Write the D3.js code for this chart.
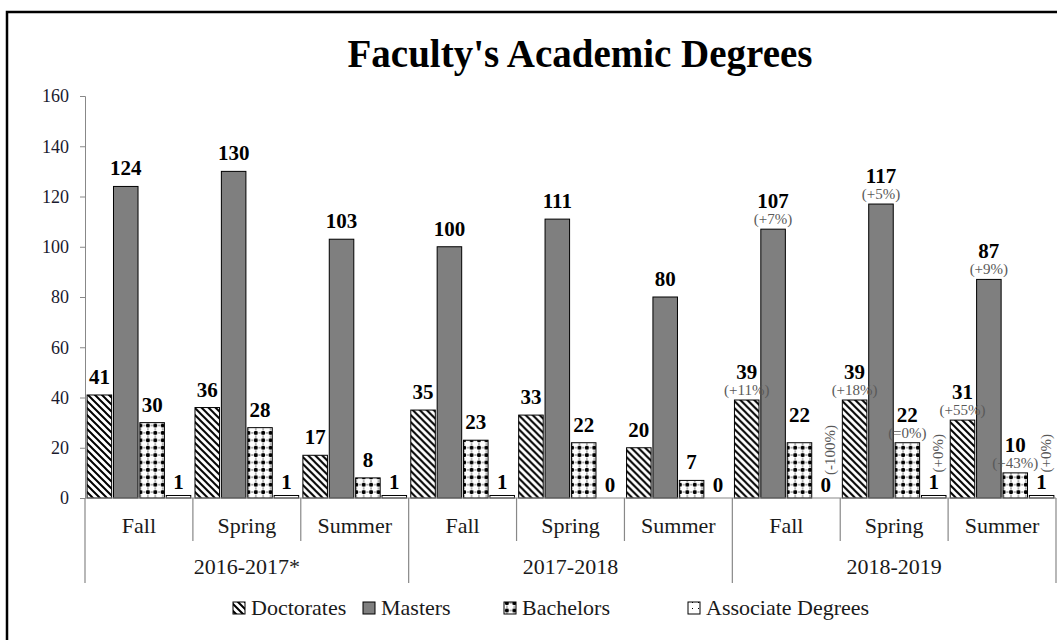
<!DOCTYPE html>
<html><head><meta charset="utf-8">
<script src="https://cdn.jsdelivr.net/npm/d3@7"></script>
<style>body{margin:0;background:#fff}svg{display:block}</style>
</head><body>
<svg id="chart" width="1057" height="640"></svg>
<script>
// ---------- data ----------
const seasons = ["Fall","Spring","Summer","Fall","Spring","Summer","Fall","Spring","Summer"];
const years = ["2016-2017*","2017-2018","2018-2019"];
const seriesNames = ["Doctorates","Masters","Bachelors","Associate Degrees"];
const doctorates = [41,36,17,35,33,20,39,39,31];
const masters    = [124,130,103,100,111,80,107,117,87];
const bachelors  = [30,28,8,23,22,7,22,22,10];
const associates = [1,1,1,1,0,0,0,1,1];
// change labels (null = no label line, "" = empty line)
const doctoratesPct = [null,null,null,null,null,null,"(+11%)","(+18%)","(+55%)"];
const mastersPct    = [null,null,null,null,null,null,"(+7%)","(+5%)","(+9%)"];
const bachelorsPct  = [null,null,null,null,null,null,"","(=0%)","(+43%)"];
const associatesPct = [null,null,null,null,null,null,"(-100%)","(+0%)","(+0%)"];
const yTicks = [0,20,40,60,80,100,120,140,160];

// ---------- setup ----------
const svg = d3.select("#chart");
const FONT = "'Liberation Serif','Times New Roman',serif";
const values = [doctorates, masters, bachelors, associates];
const pcts = [doctoratesPct, mastersPct, bachelorsPct, associatesPct];
const rotatedPct = [false,false,false,true];
const fills = ["url(#pDiag)","#7f7f7f","url(#pDots)","url(#pSparse)"];

const plotL = 85, plotR = 1056, plotT = 96, plotB = 498;
const y = d3.scaleLinear().domain([0,160]).range([plotB, plotT]);
const x = d3.scaleBand().domain(d3.range(seasons.length)).range([plotL, plotR]).padding(0);
const xi = d3.scaleBand().domain(d3.range(seriesNames.length)).range([0, x.bandwidth()])
  .paddingInner(0.07).paddingOuter(0.08);

// patterns
const defs = svg.append("defs");
const pd = defs.append("pattern").attr("id","pDiag").attr("patternUnits","userSpaceOnUse")
  .attr("width",7).attr("height",7);
pd.append("rect").attr("width",7).attr("height",7).attr("fill","#fff");
pd.append("path").attr("d","M-2,-2L9,9M-2,5L2,9M5,-2L9,2").attr("stroke","#000").attr("stroke-width",2);

const pdots = defs.append("pattern").attr("id","pDots").attr("patternUnits","userSpaceOnUse")
  .attr("width",7.4).attr("height",7.4);
pdots.append("rect").attr("width",7.4).attr("height",7.4).attr("fill","#fff");
pdots.append("path").attr("d","M0,3.7H7.4M3.7,0V7.4").attr("stroke","#000").attr("stroke-width",0.6).attr("stroke-dasharray","1,1.2");
pdots.append("circle").attr("cx",3.7).attr("cy",3.7).attr("r",2.1).attr("fill","#000");

const ps = defs.append("pattern").attr("id","pSparse").attr("patternUnits","userSpaceOnUse")
  .attr("width",6).attr("height",6);
ps.append("rect").attr("width",6).attr("height",6).attr("fill","#fff");
ps.append("rect").attr("x",2).attr("y",2).attr("width",1).attr("height",1).attr("fill","#000");

// outer border
svg.append("rect").attr("x",7).attr("y",12).attr("width",1100).attr("height",700)
  .attr("fill","none").attr("stroke","#000").attr("stroke-width",2.5);

// title
svg.append("text").attr("x",580).attr("y",67).attr("text-anchor","middle")
  .attr("font-family",FONT).attr("font-weight","bold").attr("font-size",39)
  .attr("fill","#000").text("Faculty's Academic Degrees");

// y axis
const yAxis = svg.append("g").attr("transform",`translate(${plotL},0)`)
  .call(d3.axisLeft(y).tickValues(yTicks).tickSize(5).tickPadding(11).tickFormat(d3.format("d")));
yAxis.select(".domain").attr("stroke","#888");
yAxis.selectAll(".tick line").attr("stroke","#888");
yAxis.selectAll(".tick text").attr("font-family",FONT).attr("font-size",18).attr("fill","#1a1a2e");

// bars
const groups = svg.append("g").selectAll("g").data(seasons).join("g")
  .attr("transform",(d,i)=>`translate(${x(i)},0)`);

values.forEach((arr, s) => {
  groups.append("rect")
    .attr("x", xi(s)).attr("width", xi.bandwidth())
    .attr("y", (d,i)=>y(arr[i])).attr("height",(d,i)=>Math.max(0.0001, plotB - y(arr[i])))
    .attr("fill", fills[s]).attr("stroke","#000").attr("stroke-width",1)
    .attr("display",(d,i)=>arr[i]===0?"none":null);
});

// labels
values.forEach((arr, s) => {
  const cx = xi(s) + xi.bandwidth()/2;
  groups.each(function(d,i){
    const g = d3.select(this);
    const v = arr[i], p = pcts[s][i];
    const topY = y(v);
    const stacked = p !== null && !rotatedPct[s];
    const gap = stacked ? 21 : (s === 3 ? 6 : 11);
    const vb = topY - gap;
    g.append("text").attr("x",cx).attr("y",vb).attr("text-anchor","middle")
      .attr("font-family",FONT).attr("font-weight","bold").attr("font-size",21)
      .attr("fill","#000").text(v);
    if (p !== null && p !== "") {
      if (rotatedPct[s]) {
        const ax = cx + 4, ay = vb - 17;
        g.append("text").attr("transform",`translate(${ax},${ay}) rotate(-90)`)
          .attr("dy","0.35em").attr("text-anchor","start")
          .attr("font-family",FONT).attr("font-size",15).attr("fill","#595959").text(p);
      } else {
        g.append("text").attr("x",cx).attr("y",topY - 5).attr("text-anchor","middle")
          .attr("font-family",FONT).attr("font-size",15).attr("fill","#595959").text(p);
      }
    }
  });
});

// x axis baseline & separators
const axisG = svg.append("g");
axisG.append("line").attr("x1",plotL).attr("x2",plotR).attr("y1",plotB).attr("y2",plotB)
  .attr("stroke","#888").attr("stroke-width",1.2);
const perYear = seasons.length / years.length;
d3.range(seasons.length + 1).forEach(i => {
  const xx = i < seasons.length ? x(i) : plotR;
  const isYear = i % perYear === 0;
  axisG.append("line").attr("x1",xx).attr("x2",xx).attr("y1",plotB).attr("y2", isYear ? 583 : 541)
    .attr("stroke","#888").attr("stroke-width",1.2);
});
axisG.selectAll("text.season").data(seasons).join("text").attr("class","season")
  .attr("x",(d,i)=>x(i)+x.bandwidth()/2).attr("y",533).attr("text-anchor","middle")
  .attr("font-family",FONT).attr("font-size",22).attr("fill","#1a1a1a").text(d=>d);
axisG.selectAll("text.year").data(years).join("text").attr("class","year")
  .attr("x",(d,i)=>(x(i*perYear) + (i*perYear+perYear < seasons.length ? x(i*perYear+perYear) : plotR))/2)
  .attr("y",574).attr("text-anchor","middle")
  .attr("font-family",FONT).attr("font-size",22).attr("fill","#1a1a1a").text(d=>d);

// legend
const legendX = [233, 363, 504, 688];
const lg = svg.append("g");
seriesNames.forEach((n, s) => {
  lg.append("rect").attr("x",legendX[s]).attr("y",602).attr("width",12).attr("height",12)
    .attr("fill",fills[s]).attr("stroke","#000").attr("stroke-width",1);
  lg.append("text").attr("x",legendX[s]+18).attr("y",615)
    .attr("font-family",FONT).attr("font-size",22).attr("fill","#1a1a1a").text(n);
});
</script>
</body></html>
